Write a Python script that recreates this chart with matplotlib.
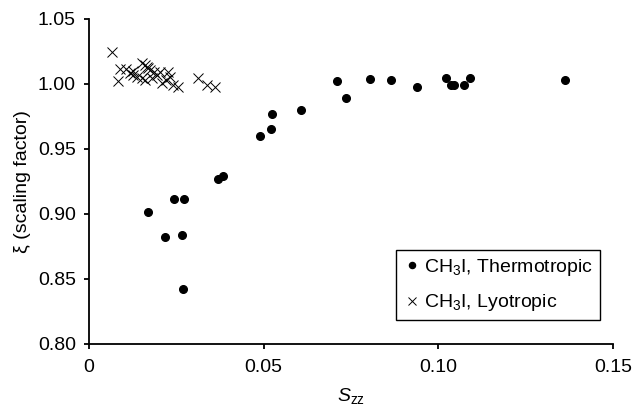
import matplotlib
matplotlib.use("Agg")
import matplotlib.pyplot as plt

plt.rcParams['font.family'] = ['Liberation Sans', 'DejaVu Sans']
plt.rcParams['mathtext.fontset'] = 'custom'
plt.rcParams['mathtext.rm'] = 'Liberation Sans'
plt.rcParams['mathtext.it'] = 'Liberation Sans:italic'

# CH3I in thermotropic liquid crystals
szz_thermo = [0.0170, 0.0244, 0.0273, 0.0217, 0.0266, 0.0269, 0.0370, 0.0384,
              0.0490, 0.0520, 0.0525, 0.0606, 0.0711, 0.0737, 0.0803, 0.0865,
              0.0940, 0.1023, 0.1036, 0.1044, 0.1073, 0.1092, 0.1364]
xi_thermo = [0.9011, 0.9116, 0.9116, 0.8820, 0.8836, 0.8420, 0.9267, 0.9293,
             0.9601, 0.9650, 0.9768, 0.9799, 1.0025, 0.9889, 1.0035, 1.0029,
             0.9976, 1.0042, 0.9993, 0.9993, 0.9993, 1.0045, 1.0032]

# CH3I in lyotropic liquid crystals
szz_lyo = [0.0067, 0.0082, 0.0089, 0.0106, 0.0117, 0.0125, 0.0127, 0.0151,
           0.0160, 0.0165, 0.0170, 0.0175, 0.0137, 0.0151, 0.0160, 0.0180,
           0.0186, 0.0194, 0.0203, 0.0208, 0.0227, 0.0232, 0.0241, 0.0254,
           0.0220, 0.0311, 0.0337, 0.0361]
xi_lyo = [1.0243, 1.0022, 1.0112, 1.0112, 1.0086, 1.0069, 1.0102, 1.0159,
          1.0146, 1.0133, 1.0120, 1.0107, 1.0056, 1.0043, 1.0030, 1.0043,
          1.0094, 1.0069, 1.0094, 1.0005, 1.0094, 1.0056, 0.9991, 0.9974,
          1.0030, 1.0043, 0.9991, 0.9978]

fig = plt.figure(figsize=(6.33, 4.11), dpi=100)
ax = fig.add_axes([0.1406, 0.1642, 0.8278, 0.7896])

ax.plot(szz_thermo, xi_thermo, 'o', color='black', markersize=5.5,
        label=r'CH$_{3}$I, Thermotropic')
ax.plot(szz_lyo, xi_lyo, 'x', color='black', markersize=7, markeredgewidth=0.7,
        label=r'CH$_{3}$I, Lyotropic')

ax.set_xlim(0, 0.15)
ax.set_ylim(0.80, 1.05)
ax.set_xticks([0, 0.05, 0.10, 0.15])
ax.set_xticklabels(['0', '0.05', '0.10', '0.15'])
ax.set_yticks([0.80, 0.85, 0.90, 0.95, 1.00, 1.05])
ax.set_yticklabels(['0.80', '0.85', '0.90', '0.95', '1.00', '1.05'])

for side in ['top', 'right']:
    ax.spines[side].set_visible(False)
for side in ['left', 'bottom']:
    ax.spines[side].set_linewidth(1.3)
ax.tick_params(direction='out', length=3.6, width=1.3, labelsize=14)
ax.tick_params(axis='y', pad=5.8)
ax.tick_params(axis='x', pad=7.6)

ax.set_xlabel(r'$S_{\mathrm{zz}}$', fontsize=14, labelpad=7)
ax.set_ylabel('ξ (scaling factor)', fontsize=14, labelpad=5)

leg = ax.legend(loc='lower right', bbox_to_anchor=(0.975, 0.072), fontsize=14,
                frameon=True, fancybox=False, handletextpad=0.1,
                handlelength=1.0, borderpad=0.35, labelspacing=0.75,
                borderaxespad=0, markerscale=0.8)
leg.get_frame().set_edgecolor('black')
leg.get_frame().set_linewidth(1.0)
leg.get_frame().set_alpha(1)

fig.savefig('out.png', dpi=100)
